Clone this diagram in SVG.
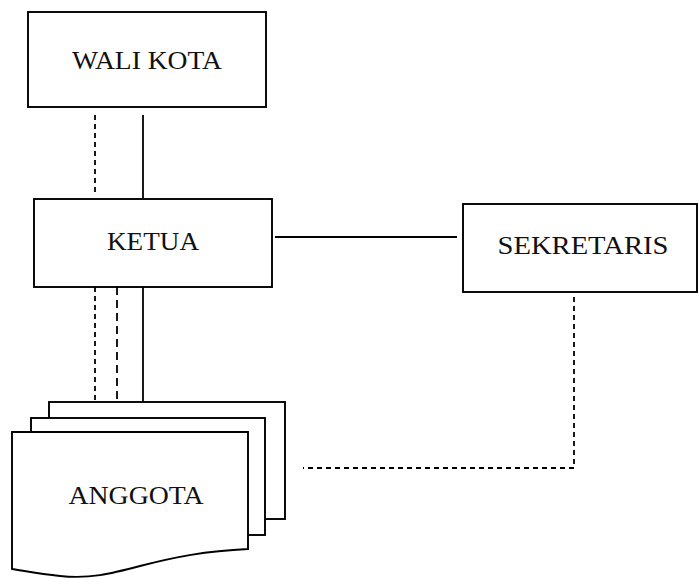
<svg xmlns="http://www.w3.org/2000/svg" width="698" height="578" viewBox="0 0 698 578">
<style>
.box{fill:#fff;stroke:#000;stroke-width:1.9}
.lbl{font-family:"Liberation Serif","Times New Roman",serif;font-size:25px;fill:#111;text-anchor:middle}
.solid{fill:none;stroke:#000;stroke-width:1.8}
.dash{fill:none;stroke:#000;stroke-width:1.8;stroke-dasharray:5,4}
.dashl{fill:none;stroke:#000;stroke-width:1.8;stroke-dasharray:8,5}
</style>
<rect width="698" height="578" fill="#fff"/>
<g id="connectors">
<line class="dash" x1="95" y1="115" x2="95" y2="192"/>
<line class="solid" x1="143" y1="115" x2="143" y2="199"/>
<line class="dash" x1="95" y1="287" x2="95" y2="402"/>
<line class="dashl" x1="117" y1="287" x2="117" y2="402"/>
<line class="solid" x1="143" y1="287" x2="143" y2="402"/>
<line class="solid" x1="275" y1="237" x2="457" y2="237"/>
<polyline class="dash" points="574,297 574,468 303,468"/>
</g>
<g id="wali-kota">
<rect class="box" x="28" y="12" width="238" height="95"/>
<text class="lbl" x="147" y="69" textLength="150" lengthAdjust="spacingAndGlyphs">WALI KOTA</text>
</g>
<g id="ketua">
<rect class="box" x="34" y="199" width="238" height="88"/>
<text class="lbl" x="153" y="250" textLength="92" lengthAdjust="spacingAndGlyphs">KETUA</text>
</g>
<g id="sekretaris">
<rect class="box" x="463" y="204" width="234" height="88"/>
<text class="lbl" x="583" y="254" textLength="171" lengthAdjust="spacingAndGlyphs">SEKRETARIS</text>
</g>
<g id="anggota">
<rect class="box" x="49" y="402" width="236" height="117"/>
<rect class="box" x="31" y="418" width="234" height="117"/>
<path class="box" d="M12,432 L248,432 L248,549 C205,551 175,557 140,566 C110,574 90,579 60,576 C40,574 25,571 12,569 Z"/>
<text class="lbl" x="136" y="504" textLength="135" lengthAdjust="spacingAndGlyphs">ANGGOTA</text>
</g>
</svg>
